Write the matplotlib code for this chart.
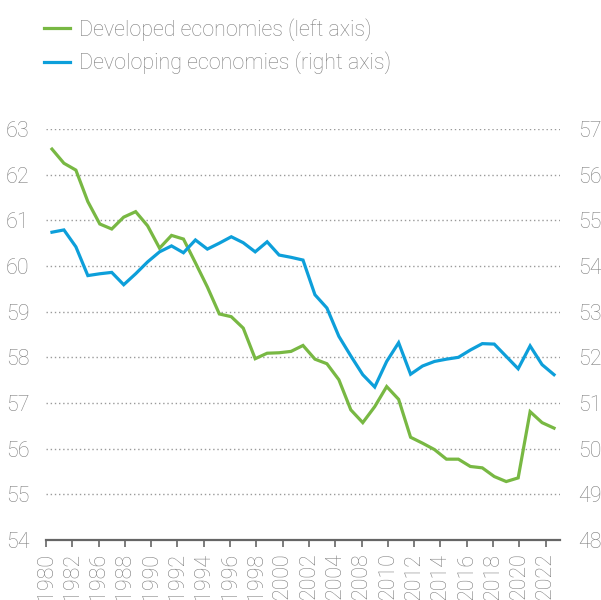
import matplotlib
matplotlib.use("Agg")
import matplotlib.pyplot as plt
import numpy as np

# Data
years = list(range(1980, 2023))
developed = [62.56, 62.25, 62.10, 61.41, 60.92, 60.81, 61.07, 61.19, 60.88, 60.39,
             60.67, 60.59, 60.07, 59.54, 58.95, 58.89, 58.64, 57.97, 58.09, 58.10,
             58.13, 58.26, 57.96, 57.86, 57.51, 56.85, 56.57, 56.92, 57.36, 57.08,
             56.25, 56.12, 55.98, 55.77, 55.77, 55.61, 55.58, 55.39, 55.28, 55.36,
             56.81, 56.57, 56.45]
developing = [54.74, 54.79, 54.42, 53.79, 53.83, 53.86, 53.59, 53.83, 54.09, 54.31,
              54.44, 54.29, 54.57, 54.37, 54.50, 54.64, 54.51, 54.31, 54.53, 54.24,
              54.19, 54.13, 53.37, 53.08, 52.46, 52.03, 51.62, 51.35, 51.91, 52.32,
              51.63, 51.81, 51.91, 51.96, 52.00, 52.16, 52.30, 52.29, 52.02, 51.75,
              52.25, 51.84, 51.62]
# tick labels as printed on the original axis
xlabels = ["1980", "1982", "1986", "1988", "1990", "1992", "1994", "1996", "1998", "2000",
           "2002", "2004", "2008", "2010", "2012", "2014", "2016", "2018", "2020", "2022"]
left_ticks = list(range(54, 64))
right_ticks = list(range(48, 58))

green = "#78b843"
blue = "#0d9fda"
grey = "#808080"

plt.rcParams['font.family'] = ['Roboto', 'DejaVu Sans']
plt.rcParams['font.weight'] = 'light'

fig = plt.figure(figsize=(6.01, 6.00), dpi=100)
ax = fig.add_axes([46 / 601, 60 / 600, 514 / 601, 411 / 600])
ax2 = ax.twinx()

x = np.arange(len(years))
l1, = ax.plot(x, developed, color=green, lw=2.3, solid_joinstyle='miter')
l2, = ax2.plot(x, developing, color=blue, lw=2.3, solid_joinstyle='miter')

ax.set_xlim(-0.5, len(years) - 0.5)
ax.set_ylim(54, 63)
ax2.set_ylim(48, 57)
ax.set_yticks(left_ticks)
ax2.set_yticks(right_ticks)

tick_pos = -0.5 + 2.2 * np.arange(len(xlabels))
ax.set_xticks(tick_pos)
ax.set_xticklabels(xlabels, rotation=90, fontsize=15.5, color=grey)

for a in (ax, ax2):
    for s in ("top", "left", "right", "bottom"):
        a.spines[s].set_visible(False)
ax.spines["bottom"].set_visible(True)
ax.spines["bottom"].set_color("#666666")
ax.spines["bottom"].set_linewidth(1.6)

ax.tick_params(axis='x', direction='out', length=5, width=1.2, color="#666666", pad=4)
ax.tick_params(axis='y', length=0, pad=12, labelsize=15.5, labelcolor=grey)
ax2.tick_params(axis='y', length=0, pad=13, labelsize=15.5, labelcolor=grey)

for v in left_ticks[1:]:
    ax.axhline(v, color="#9a9a9a", lw=1.0, ls=(0, (1, 2)), zorder=0)

fig.legend([l1, l2], ["Developed economies (left axis)", "Devoloping economies (right axis)"],
           loc='upper left', bbox_to_anchor=(44 / 601, 1 - 18 / 600), frameon=False,
           fontsize=15.5, labelcolor=grey, handlelength=1.2, handletextpad=0.42,
           labelspacing=0.5, borderpad=0, borderaxespad=0)

fig.savefig("out.png", dpi=100)
